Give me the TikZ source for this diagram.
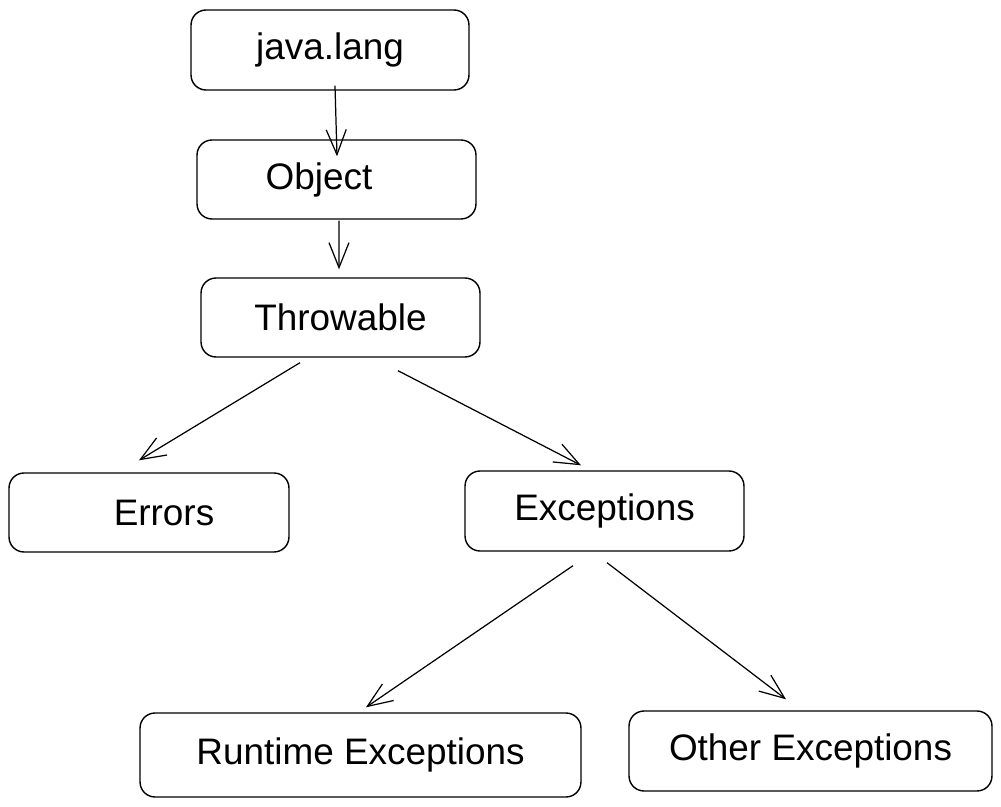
\documentclass[tikz,border=0pt]{standalone}
\usepackage{fontspec}
\setmainfont{Liberation Sans}
\usetikzlibrary{arrows.meta}
\tikzset{
	box/.style={
			draw, line width=0.8pt, rounded corners=0.3cm,
			font=\fontsize{21}{25}\selectfont, inner sep=0pt
		},
	arr/.style={
			draw, line width=0.7pt,
			-{Straight Barb[length=5mm, width=4mm, line width=0.7pt]}
		}
}

\begin{document}
\begin{tikzpicture}[x=0.02cm, y=-0.02cm]
			\useasboundingbox (0,0) rectangle (1001,807);

			\node [box, minimum width=5.56cm, minimum height=1.6cm] (jl) at (330,50) {java.lang};
			\node [box, minimum width=5.58cm, minimum height=1.58cm] (obj) at (336.5,179.5) {Object\kern0.7cm};
			\node [box, minimum width=5.58cm, minimum height=1.58cm] (thr) at (340.5,317.5) {Throwable};
			\node [box, minimum width=5.6cm, minimum height=1.58cm] (err) at (149,512.5) {\kern0.6cm Errors};
			\node [box, minimum width=5.58cm, minimum height=1.6cm] (exc) at (604.5,511) {Exceptions};
			\node [box, minimum width=8.82cm, minimum height=1.68cm] (rt) at (360.5,755) {Runtime Exceptions};
			\node [box, minimum width=7.26cm, minimum height=1.6cm] (oth) at (810.5,751) {Other Exceptions};

			% inheritance arrows
			\draw [arr] ([shift={(5,-5)}]jl.south) -- ([shift={(0.5,17)}]obj.north);
			\draw [arr] ([shift={(2.5,1)}]obj.south) -- ([shift={(-1.5,-8)}]thr.north);
			\draw [arr] ([shift={(-40.5,5)}]thr.south) -- ([shift={(-10,-12)}]err.north);
			\draw [arr] ([shift={(57.5,13)}]thr.south) -- ([shift={(-23.5,-5)}]exc.north);
			\draw [arr] ([shift={(-31.5,14)}]exc.south) -- ([shift={(5.5,-5)}]rt.north);
			\draw [arr] ([shift={(2.5,11)}]exc.south) -- ([shift={(-24.5,-11)}]oth.north);
		\end{tikzpicture}
\end{document}
